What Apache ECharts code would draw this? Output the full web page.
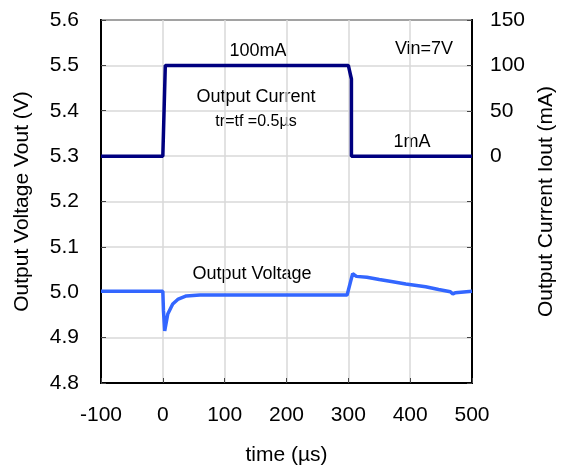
<!DOCTYPE html>
<html>
<head>
<meta charset="utf-8">
<script src="https://cdn.jsdelivr.net/npm/echarts@6/dist/echarts.min.js"></script>
<style>
  html, body { margin: 0; padding: 0; background: #fff; }
  #chart { width: 568px; height: 471px; }
</style>
</head>
<body>
<div id="chart"></div>
<script>
  // time (µs) / current (mA)
  var currentTime = [-100, 0, 4, 300, 305, 305, 500];
  var currentVal  = [0, 0, 100, 100, 85, 0, 0];

  // time (µs) / voltage (V)
  var voltTime = [-100, 0, 1, 3, 8, 16, 25, 38, 60, 84, 86, 88, 100, 103, 106, 117, 119, 121, 200, 298, 300, 303, 307, 313, 330, 332, 350, 352, 372, 374, 393, 395, 425, 428, 446, 449, 465, 469, 473, 476, 500];
  var voltVal  = [5.002, 5.002, 4.96, 4.915, 4.952, 4.974, 4.985, 4.992, 4.994, 4.994, 4.990, 4.994, 4.994, 4.990, 4.994, 4.994, 4.990, 4.994, 4.994, 4.994, 4.990, 5.02, 5.041, 5.035, 5.033, 5.030, 5.028, 5.025, 5.023, 5.020, 5.018, 5.015, 5.012, 5.008, 5.006, 5.003, 5.001, 4.996, 4.999, 5.002, 5.002];

  var xTicks = [-100, 500, 100];      // min, max, step
  var vTicks = [4.8, 5.6, 0.1];
  var iTicks = [-250, 150, 50];

  var chart = echarts.init(document.getElementById('chart'));
  var font = 'Liberation Sans, Arial, sans-serif';

  function pairs(xs, ys) {
    return xs.map(function (x, i) { return [x, ys[i]]; });
  }

  function note(x, y, text, size) {
    return { type: 'text', x: x, y: y, style: { text: text, fill: '#000', font: (size || 18) + 'px ' + font, textAlign: 'center', textVerticalAlign: 'middle' } };
  }

  var option = {
    backgroundColor: '#fff',
    animation: false,
    textStyle: { fontFamily: font },
    grid: {
      left: 101, right: 96, top: 20, bottom: 85,
      show: true, borderColor: '#000', borderWidth: 2, backgroundColor: 'transparent'
    },
    xAxis: {
      type: 'value',
      min: xTicks[0], max: xTicks[1], interval: xTicks[2],
      name: 'time (µs)', nameLocation: 'middle', nameGap: 62,
      nameTextStyle: { color: '#000', fontSize: 21, fontFamily: font },
      axisLine: { show: true, onZero: false, lineStyle: { color: '#000', width: 2 } },
      axisTick: { show: true, inside: true, length: 5, lineStyle: { color: '#444', width: 1 } },
      axisLabel: { color: '#000', fontSize: 21, margin: 22, fontFamily: font },
      splitLine: { show: true, lineStyle: { color: '#d9d9d9', width: 1.5 } }
    },
    yAxis: [{
      type: 'value',
      min: vTicks[0], max: vTicks[1], interval: vTicks[2],
      name: 'Output Voltage Vout (V)', nameLocation: 'middle', nameGap: 68,
      nameTextStyle: { color: '#000', fontSize: 21, fontFamily: font },
      axisLine: { show: true, onZero: false, lineStyle: { color: '#000', width: 2 } },
      axisTick: { show: true, inside: true, length: 5, lineStyle: { color: '#444', width: 1 } },
      axisLabel: { color: '#000', fontSize: 21, margin: 22, fontFamily: font,
        formatter: function (v) { return v.toFixed(1); } },
      splitLine: { show: true, lineStyle: { color: '#d9d9d9', width: 1.5 } }
    }, {
      type: 'value',
      min: iTicks[0], max: iTicks[1], interval: iTicks[2],
      name: 'Output Current Iout (mA)', nameLocation: 'middle', nameGap: 64,
      nameRotate: 90,
      nameTextStyle: { color: '#000', fontSize: 21, fontFamily: font },
      axisLine: { show: true, onZero: false, lineStyle: { color: '#000', width: 2 } },
      axisTick: { show: true, inside: true, length: 5, lineStyle: { color: '#444', width: 1 } },
      axisLabel: { color: '#000', fontSize: 21, margin: 18, fontFamily: font,
        formatter: function (v) { return v >= 0 ? String(v) : ''; } },
      splitLine: { show: false }
    }],
    series: [{
      name: 'Output Current',
      type: 'line',
      yAxisIndex: 1,
      data: pairs(currentTime, currentVal),
      showSymbol: false,
      lineStyle: { color: '#000080', width: 3.5 },
      z: 3
    }, {
      name: 'Output Voltage',
      type: 'line',
      yAxisIndex: 0,
      data: pairs(voltTime, voltVal),
      showSymbol: false,
      lineStyle: { color: '#3366ff', width: 3.5 },
      z: 4
    }],
    graphic: [
      note(258, 51, '100mA'),
      note(256, 97, 'Output Current'),
      note(256, 122, 'tr=tf =0.5µs', 16),
      note(424, 49, 'Vin=7V'),
      note(412, 142, '1mA'),
      note(252, 274, 'Output Voltage')
    ]
  };

  chart.setOption(option);
</script>
</body>
</html>
